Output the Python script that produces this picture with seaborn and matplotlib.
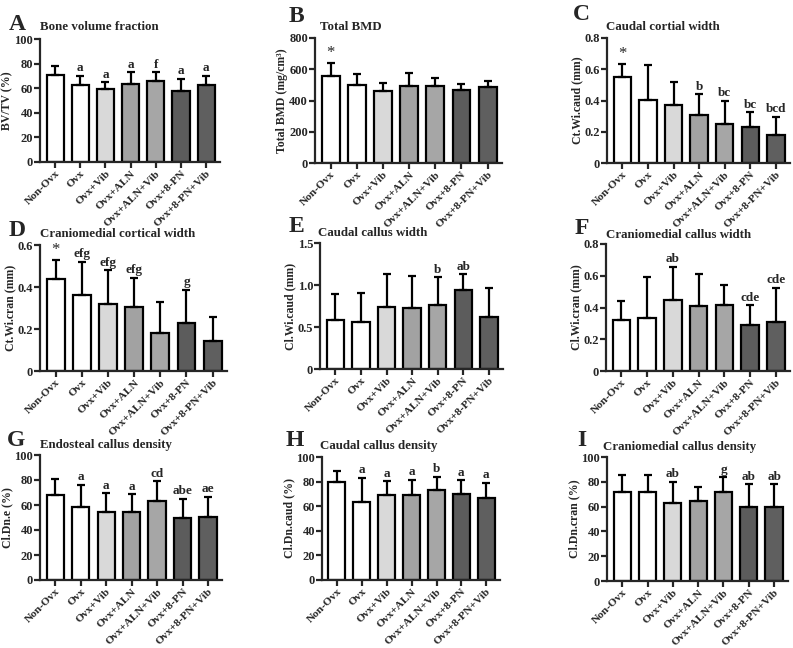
import matplotlib
matplotlib.use('Agg')
import matplotlib.pyplot as plt
import seaborn as sns
import numpy as np

groups = ['Non-Ovx', 'Ovx', 'Ovx+Vib', 'Ovx+ALN', 'Ovx+ALN+Vib', 'Ovx+8-PN', 'Ovx+8-PN+Vib']
bar_colors = ['#ffffff', '#ffffff', '#d9d9d9', '#a2a2a2', '#a6a6a6', '#5c5c5c', '#5f5f5f']

# means and SD (upper error bar) per panel
bvtv_mean = [71, 63, 59.5, 63.5, 65.5, 57.5, 63]
bvtv_sd = [7, 7, 5.5, 9.5, 7.5, 10, 7]
bvtv_sig = ['', 'a', 'a', 'a', 'f', 'a', 'a']

bmd_mean = [558, 498, 458, 490, 492, 467, 485]
bmd_sd = [82, 70, 57, 88, 51, 38, 42]
bmd_sig = ['*', '', '', '', '', '', '']

ctwi_caud_mean = [0.55, 0.405, 0.37, 0.305, 0.25, 0.23, 0.18]
ctwi_caud_sd = [0.085, 0.22, 0.15, 0.135, 0.15, 0.095, 0.115]
ctwi_caud_sig = ['*', '', '', 'b', 'bc', 'bc', 'bcd']

ctwi_cran_mean = [0.44, 0.36, 0.32, 0.305, 0.182, 0.228, 0.145]
ctwi_cran_sd = [0.09, 0.16, 0.16, 0.14, 0.148, 0.159, 0.113]
ctwi_cran_sig = ['*', 'efg', 'efg', 'efg', '', 'g', '']

clwi_caud_mean = [0.58, 0.56, 0.735, 0.725, 0.765, 0.94, 0.625]
clwi_caud_sd = [0.31, 0.34, 0.395, 0.38, 0.325, 0.19, 0.34]
clwi_caud_sig = ['', '', '', '', 'b', 'ab', '']

clwi_cran_mean = [0.32, 0.335, 0.45, 0.41, 0.415, 0.29, 0.31]
clwi_cran_sd = [0.12, 0.26, 0.205, 0.2, 0.125, 0.125, 0.215]
clwi_cran_sig = ['', '', 'ab', '', '', 'cde', 'cde']

cldn_e_mean = [68, 58.5, 54.5, 54.5, 63.5, 49.5, 50.5]
cldn_e_sd = [13, 17.5, 15, 14, 15.5, 15.5, 16]
cldn_e_sig = ['', 'a', 'a', 'a', 'cd', 'abe', 'ae']

cldn_caud_mean = [79.5, 63.5, 69.5, 69, 73.5, 70, 67]
cldn_caud_sd = [9.5, 19.5, 11, 12.5, 10.5, 11, 12]
cldn_caud_sig = ['', 'a', 'a', 'a', 'b', 'a', 'a']

cldn_cran_mean = [72, 71.5, 63, 64.5, 71.5, 59.5, 59.5]
cldn_cran_sd = [13.5, 14, 17, 11.5, 12, 18.5, 18.5]
cldn_cran_sig = ['', '', 'ab', '', 'g', 'ab', 'ab']

sns.set_style('ticks')
plt.rcParams['font.family'] = ['Liberation Serif', 'DejaVu Serif']
plt.rcParams['font.weight'] = 'bold'
plt.rcParams['axes.labelweight'] = 'bold'

W, H = 793, 648
fig = plt.figure(figsize=(W / 100, H / 100), dpi=100)

# (letter, title, ylabel, means, sds, sig, ymax, yticks, ticklabels,
#  axes box l,t,r,b in px, letter xy, title xy)
panels = [
    ('A', 'Bone volume fraction', 'BV/TV (%)', bvtv_mean, bvtv_sd, bvtv_sig,
     100, [0, 20, 40, 60, 80, 100], None, (40, 39, 220, 162), (9, 24), (40, 27)),
    ('B', 'Total BMD', 'Total BMD (mg/cm³)', bmd_mean, bmd_sd, bmd_sig,
     800, [0, 200, 400, 600, 800], None, (315, 38, 502, 163), (289, 17), (320, 27)),
    ('C', 'Caudal cortial width', 'Ct.Wi.caud (mm)', ctwi_caud_mean, ctwi_caud_sd, ctwi_caud_sig,
     0.8, [0, 0.2, 0.4, 0.6, 0.8], ['0', '0.2', '0.4', '0.6', '0.8'], (607, 38, 790, 163), (573, 14), (606, 27)),
    ('D', 'Craniomedial cortical width', 'Ct.Wi.cran (mm)', ctwi_cran_mean, ctwi_cran_sd, ctwi_cran_sig,
     0.6, [0, 0.2, 0.4, 0.6], ['0', '0.2', '0.4', '0.6'], (40, 245, 227, 371), (9, 231), (40, 234)),
    ('E', 'Caudal callus width', 'Cl.Wi.caud (mm)', clwi_caud_mean, clwi_caud_sd, clwi_caud_sig,
     1.5, [0, 0.5, 1.0, 1.5], ['0', '0.5', '1.0', '1.5'], (320, 243, 503, 369), (289, 227), (318, 233)),
    ('F', 'Craniomedial callus width', 'Cl.Wi.cran (mm)', clwi_cran_mean, clwi_cran_sd, clwi_cran_sig,
     0.8, [0, 0.2, 0.4, 0.6, 0.8], ['0', '0.2', '0.4', '0.6', '0.8'], (606, 244, 790, 371), (575, 229), (606, 235)),
    ('G', 'Endosteal callus density', 'Cl.Dn.e (%)', cldn_e_mean, cldn_e_sd, cldn_e_sig,
     100, [0, 20, 40, 60, 80, 100], None, (40, 455, 222, 580), (7, 441), (40, 445)),
    ('H', 'Caudal callus density', 'Cl.Dn.caud (%)', cldn_caud_mean, cldn_caud_sd, cldn_caud_sig,
     100, [0, 20, 40, 60, 80, 100], None, (322, 457, 500, 580), (286, 441), (320, 446)),
    ('I', 'Craniomedial callus density', 'Cl.Dn.cran (%)', cldn_cran_mean, cldn_cran_sd, cldn_cran_sig,
     100, [0, 20, 40, 60, 80, 100], None, (607, 457, 788, 581), (577, 441), (603, 447)),
]

for (letter, title, ylabel, means, sds, sig, ymax, yticks, yticklabels,
     box, lxy, txy) in panels:
    l, t, r, b = box
    ax = fig.add_axes([l / W, 1 - b / H, (r - l) / W, (b - t) / H])
    sns.barplot(x=groups, y=means, hue=groups, palette=bar_colors, legend=False,
                edgecolor='black', linewidth=1.6, width=0.68, errorbar=None, ax=ax)
    ax.errorbar(range(len(groups)), means, yerr=[np.zeros(len(groups)), sds],
                fmt='none', ecolor='black', elinewidth=1.6, capsize=3, capthick=1.6)
    for i, s in enumerate(sig):
        if s:
            ax.text(i, means[i] + sds[i] + ymax * 0.012, s, ha='center', va='bottom',
                    fontsize=9.5 if s != '*' else 12, fontweight='bold' if s != '*' else 'normal')
    ax.set_ylim(0, ymax)
    ax.set_xlim(-0.6, 6.55)
    ax.set_yticks(yticks)
    if yticklabels:
        ax.set_yticklabels(yticklabels)
    ax.set_xticks(range(len(groups)))
    ax.set_xticklabels(groups, rotation=45, ha='right', rotation_mode='anchor')
    ax.tick_params(axis='x', labelsize=8.2, width=1.6, length=4, pad=1)
    ax.tick_params(axis='y', labelsize=9, width=1.6, length=4, pad=1)
    for lab in ax.get_xticklabels() + ax.get_yticklabels():
        lab.set_fontweight('bold')
    ax.set_ylabel(ylabel, fontsize=8.5, fontweight='bold', labelpad=1)
    ax.set_xlabel('')
    sns.despine(ax=ax)
    for sp in ['left', 'bottom']:
        ax.spines[sp].set_linewidth(1.6)
    fig.text(lxy[0] / W, 1 - lxy[1] / H, letter, fontsize=17, fontweight='bold',
             ha='left', va='center')
    fig.text(txy[0] / W, 1 - txy[1] / H, title, fontsize=9.3, fontweight='bold',
             ha='left', va='center')

fig.savefig('out.png', dpi=100)
